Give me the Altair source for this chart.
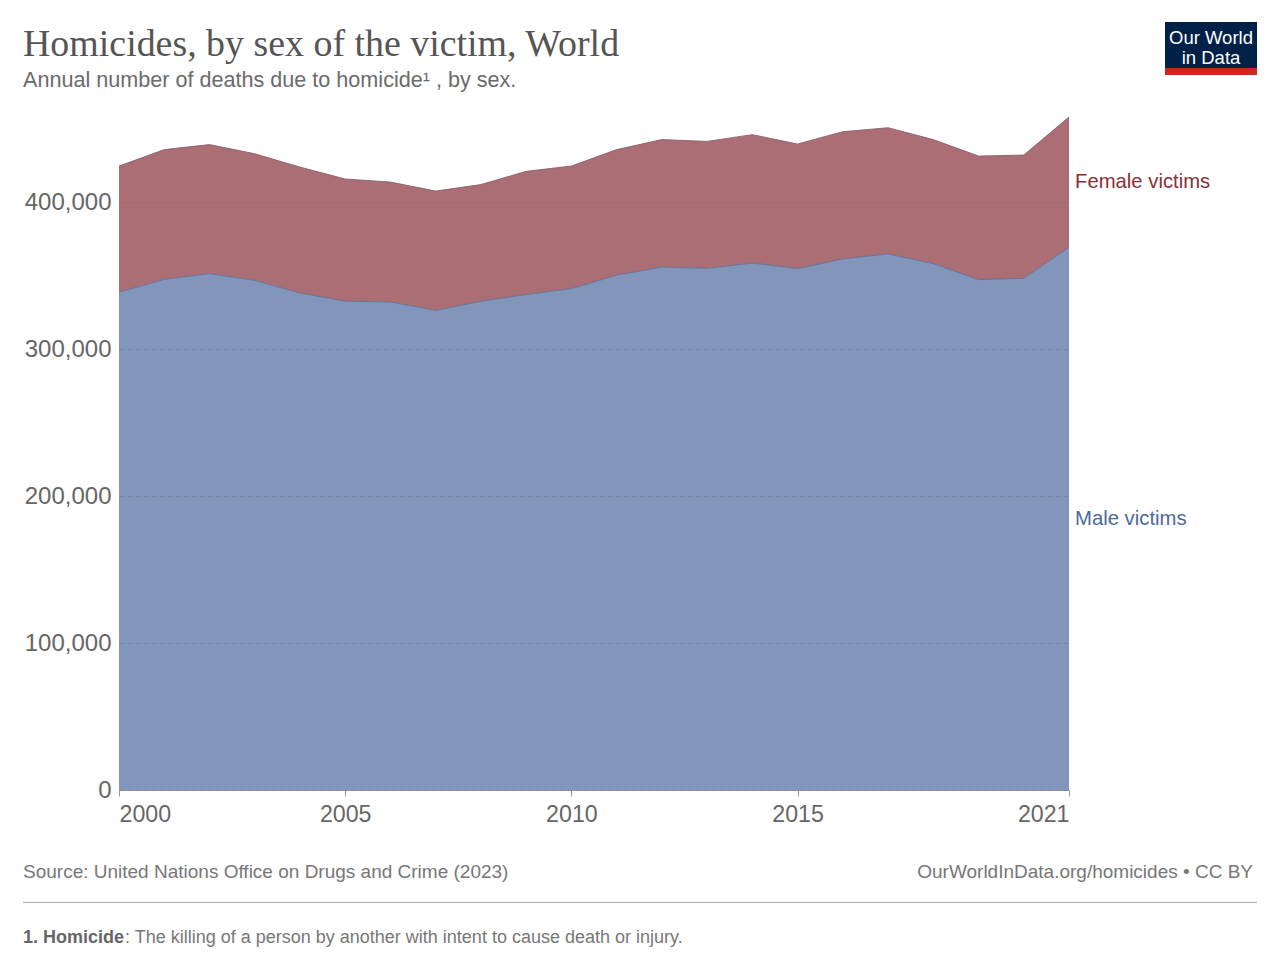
import altair as alt
import pandas as pd

# ---- data ----
years = list(range(2000, 2022))
male = [338800, 347600, 351500, 346900, 338300, 332700, 332200, 326500, 332700, 337200,
        341300, 350400, 356000, 355100, 358700, 354900, 361500, 364900, 358300, 347400,
        348300, 369400]
female = [85900, 88300, 87800, 86200, 85700, 83200, 81600, 81200, 79400, 83900,
          83400, 85500, 86700, 86400, 87400, 84800, 86600, 85900, 84400, 84100,
          83900, 88700]
series_labels = ["Female victims", "Male victims"]
x_ticks = [2000, 2005, 2010, 2015, 2021]
y_ticks = [0, 100000, 200000, 300000, 400000]

MALE_C = "#4C6A9C"
FEMALE_C = "#883039"
SANS = "Liberation Sans"

df = pd.DataFrame({"year": years, "male": male, "female": female})
df["total"] = df["male"] + df["female"]
ymax = int(df["total"].max())

xscale = alt.Scale(domain=[2000, 2021], nice=False, zero=False)
yscale = alt.Scale(domain=[0, ymax], nice=False)

xaxis = alt.Axis(values=x_ticks, format="d", labelFlush=True, grid=False,
                 domain=True, domainColor="#999", ticks=True, tickColor="#999",
                 tickSize=6, labelPadding=7.5, labelFontSize=23.2, labelColor="#666",
                 labelFont=SANS, title=None)
yaxis = alt.Axis(values=y_ticks, format=",.0f", domain=False, ticks=False, grid=True,
                 gridColor="#6f6f6f", gridOpacity=0.45, gridDash=[4, 4], gridWidth=1,
                 labelFontSize=24, labelColor="#666", labelFont=SANS,
                 labelPadding=8, title=None, zindex=1)

base = alt.Chart(df)
male_area = base.mark_area(color=MALE_C, opacity=0.7).encode(
    x=alt.X("year:Q", scale=xscale, axis=xaxis),
    y=alt.Y("male:Q", scale=yscale, axis=yaxis),
)
female_area = base.mark_area(color=FEMALE_C, opacity=0.7).encode(
    x=alt.X("year:Q", scale=xscale),
    y=alt.Y("total:Q", scale=yscale),
    y2="male:Q",
)
male_line = base.mark_line(color="#5f7099", strokeWidth=0.9).encode(
    x=alt.X("year:Q", scale=xscale), y=alt.Y("male:Q", scale=yscale))
total_line = base.mark_line(color="#8a6070", strokeWidth=0.9).encode(
    x=alt.X("year:Q", scale=xscale), y=alt.Y("total:Q", scale=yscale))

lab_df = pd.DataFrame({
    "year": [years[-1], years[-1]],
    "mid": [(male[-1] + df["total"].iloc[-1]) / 2, male[-1] / 2],
    "label": series_labels,
    "c": [FEMALE_C, MALE_C],
})
labels = alt.Chart(lab_df).mark_text(align="left", baseline="middle", dx=6,
                                     fontSize=20.3, font=SANS).encode(
    x=alt.X("year:Q", scale=xscale),
    y=alt.Y("mid:Q", scale=yscale),
    text="label:N",
    color=alt.Color("c:N", scale=None),
)


def txt(s, px, py, size, color, font=SANS, weight="normal", align="left"):
    return alt.Chart(pd.DataFrame({"t": [s]})).mark_text(
        align=align, baseline="alphabetic", fontSize=size, font=font,
        fontWeight=weight, color=color,
    ).encode(x=alt.value(px), y=alt.value(py), text="t:N")


title = txt("Homicides, by sex of the victim, World", -96, -61, 37.9, "#555555",
            font="Liberation Serif")
subtitle = txt("Annual number of deaths due to homicide\u00b9 , by sex.", -96, -30,
               21.6, "#6b6b6b")
source = txt("Source: United Nations Office on Drugs and Crime (2023)", -96, 761, 19, "#777777")
owid = txt("OurWorldInData.org/homicides \u2022 CC BY", 1134, 761, 19, "#777777", align="right")
note_b = txt("1. Homicide", -96, 826, 18, "#666666", weight="bold")
note_r = txt(": The killing of a person by another with intent to cause death or injury.",
             6, 826, 18, "#777777")

rule_df = pd.DataFrame({"k": [0]})
sep = alt.Chart(rule_df).mark_rule(color="#aaaaaa", strokeWidth=1).encode(
    x=alt.value(-96), x2=alt.value(1138), y=alt.value(785.5))
logo_bg = alt.Chart(rule_df).mark_rect(color="#002147").encode(
    x=alt.value(1046), x2=alt.value(1138), y=alt.value(-95), y2=alt.value(-49))
logo_red = alt.Chart(rule_df).mark_rect(color="#ce261e").encode(
    x=alt.value(1046), x2=alt.value(1138), y=alt.value(-49), y2=alt.value(-42))
logo1 = txt("Our World", 1092, -73.5, 18.5, "#ffffff", align="center")
logo2 = txt("in Data", 1092, -53.5, 18.5, "#ffffff", align="center")

chart = alt.layer(
    male_area, female_area, male_line, total_line, labels,
    title, subtitle, source, owid, note_b, note_r, sep,
    logo_bg, logo_red, logo1, logo2,
).properties(
    width=950, height=673,
    padding={"left": 111, "top": 109, "right": 203, "bottom": 160},
    autosize=alt.AutoSizeParams(type="none"),
).configure_view(stroke=None)

chart.save("out.html", embed_options={"renderer": "svg", "actions": False})
